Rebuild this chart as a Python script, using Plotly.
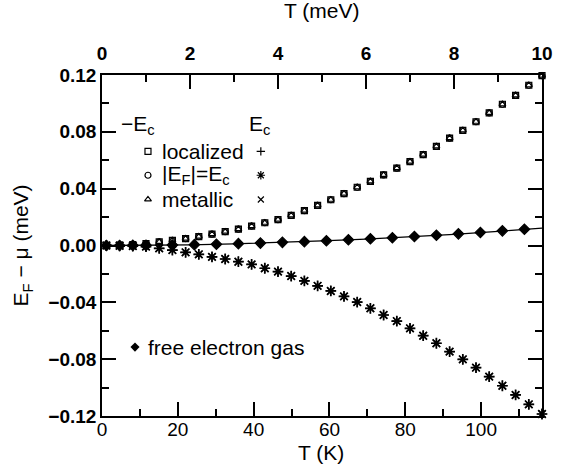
import plotly.graph_objects as go

# Temperature grid (meV) of the chemical-potential calculations
T_MEV = [0.1, 0.4, 0.7, 1.0, 1.3, 1.6, 1.9, 2.2, 2.5, 2.8, 3.1, 3.4, 3.7, 4.0,
         4.3, 4.6, 4.9, 5.2, 5.5, 5.8, 6.1, 6.4, 6.7, 7.0, 7.3, 7.6, 7.9, 8.2,
         8.5, 8.8, 9.1, 9.4, 9.7, 10.0]

# Band edge at -E_c (E_F - mu, meV)
neg_localized = [0.0000, 0.0002, 0.0006, 0.0013, 0.0025, 0.0036, 0.0049, 0.0063,
                 0.0080, 0.0097, 0.0115, 0.0137, 0.0160, 0.0182, 0.0212, 0.0245,
                 0.0282, 0.0322, 0.0365, 0.0410, 0.0452, 0.0497, 0.0544, 0.0591,
                 0.0640, 0.0697, 0.0756, 0.0810, 0.0871, 0.0933, 0.0994, 0.1057,
                 0.1128, 0.1195]
neg_fermi_eq = list(neg_localized)
neg_metallic = list(neg_localized)

# Band edge at +E_c (E_F - mu, meV)
pos_localized = [0.0000, -0.0002, -0.0004, -0.0008, -0.0020, -0.0032, -0.0048,
                 -0.0062, -0.0080, -0.0095, -0.0114, -0.0133, -0.0160, -0.0184,
                 -0.0215, -0.0249, -0.0284, -0.0320, -0.0358, -0.0398, -0.0442,
                 -0.0489, -0.0532, -0.0583, -0.0635, -0.0688, -0.0747, -0.0801,
                 -0.0860, -0.0923, -0.0987, -0.1052, -0.1118, -0.1186]
pos_fermi_eq = list(pos_localized)
pos_metallic = list(pos_localized)

# Free electron gas: computed points and the analytic curve
T_FEG = [0.1, 0.4, 0.7, 1.0, 1.6, 2.1, 2.6, 3.1, 3.6, 4.1, 4.6, 5.1, 5.6, 6.1,
         6.6, 7.1, 7.6, 8.1, 8.6, 9.1, 9.6]
feg_points = [0.0000, 0.0000, 0.0001, 0.0001, 0.0003, 0.0006, 0.0009, 0.0013,
              0.0017, 0.0022, 0.0027, 0.0033, 0.0040, 0.0047, 0.0055, 0.0063,
              0.0072, 0.0082, 0.0092, 0.0103, 0.0114]
T_CURVE = [0, 1, 2, 3, 4, 5, 6, 7, 8, 9, 10]
feg_curve = [0.0, 0.0001, 0.0005, 0.0012, 0.0021, 0.0032, 0.0045, 0.0061,
             0.0079, 0.0100, 0.0122]

K_PER_MEV = 11.605
T_MAX_MEV = 10.0

FONT = "Liberation Sans, Arial, sans-serif"
BLACK = "black"

fig = go.Figure()


def pts(x, y, symbol, size, lw=1.2):
    return go.Scatter(
        x=x, y=y, xaxis="x2", yaxis="y", mode="markers", cliponaxis=False,
        showlegend=False, hoverinfo="skip",
        marker=dict(symbol=symbol, size=size, color=BLACK,
                    line=dict(color=BLACK, width=lw)))


fig.add_trace(go.Scatter(x=T_CURVE, y=feg_curve, xaxis="x2", yaxis="y",
                         mode="lines", line=dict(color=BLACK, width=1.3),
                         showlegend=False, hoverinfo="skip"))
fig.add_trace(pts(T_MEV, neg_localized, "square-open", 6))
fig.add_trace(pts(T_MEV, neg_fermi_eq, "circle-open", 6))
fig.add_trace(pts(T_MEV, neg_metallic, "triangle-up-open", 6))
fig.add_trace(pts(T_MEV, pos_localized, "cross-thin-open", 7))
fig.add_trace(pts(T_MEV, pos_fermi_eq, "asterisk-open", 9, lw=1.7))
fig.add_trace(pts(T_MEV, pos_metallic, "x-thin-open", 7))
fig.add_trace(pts(T_FEG, feg_points, "diamond", 8))

# bottom Kelvin axis holds an empty trace so it is drawn
fig.add_trace(go.Scatter(x=[None], y=[None], xaxis="x", yaxis="y",
                         showlegend=False, hoverinfo="skip"))

# legend keys, placed in a hidden unit-square overlay
KEY_LEFT, KEY_RIGHT = 0.1045, 0.361
ROWS = [0.776, 0.706, 0.635]
left_syms = ["square-open", "circle-open", "triangle-up-open"]
right_syms = ["cross-thin-open", "asterisk-open", "x-thin-open"]
for row, ls, rs in zip(ROWS, left_syms, right_syms):
    for kx, sym in ((KEY_LEFT, ls), (KEY_RIGHT, rs)):
        fig.add_trace(go.Scatter(
            x=[kx], y=[row], xaxis="x3", yaxis="y3", mode="markers",
            showlegend=False, hoverinfo="skip", cliponaxis=False,
            marker=dict(symbol=sym, size=6 if sym != "asterisk-open" else 7,
                        color=BLACK, line=dict(color=BLACK, width=1.2))))
fig.add_trace(go.Scatter(
    x=[0.075], y=[0.202], xaxis="x3", yaxis="y3", mode="markers",
    showlegend=False, hoverinfo="skip", cliponaxis=False,
    marker=dict(symbol="diamond", size=7, color=BLACK)))

axis_common = dict(showline=True, linecolor=BLACK, linewidth=1.5,
                   ticks="inside", tickcolor=BLACK, tickwidth=1.5, ticklen=14,
                   showgrid=False, zeroline=False)

fig.update_layout(
    width=565, height=470,
    margin=dict(l=102, r=23, t=75, b=54),
    paper_bgcolor="white", plot_bgcolor="white",
    font=dict(family=FONT, color=BLACK),
    xaxis=dict(**axis_common, range=[0, T_MAX_MEV * K_PER_MEV], tick0=0,
               dtick=20, side="bottom", ticklabelstandoff=-5,
               tickfont=dict(family=FONT, size=19, color=BLACK),
               minor=dict(dtick=10, ticks="inside", ticklen=7,
                          tickcolor=BLACK, tickwidth=1.5)),
    xaxis2=dict(**axis_common, range=[0, T_MAX_MEV], tick0=0, dtick=2,
                side="top", overlaying="x", anchor="y", ticklabelstandoff=6,
                tickfont=dict(family=FONT, size=19, color=BLACK, weight="bold"),
                minor=dict(dtick=1, ticks="inside", ticklen=7,
                           tickcolor=BLACK, tickwidth=1.5)),
    yaxis=dict(**axis_common, range=[-0.12, 0.12], tick0=0, dtick=0.04,
               tickformat=".2f", mirror="ticks",
               tickfont=dict(family=FONT, size=19, color=BLACK, weight="bold"),
               minor=dict(dtick=0.02, ticks="inside", ticklen=7,
                          tickcolor=BLACK, tickwidth=1.5)),
    xaxis3=dict(range=[0, 1], visible=False, overlaying="x", anchor="y3"),
    yaxis3=dict(range=[0, 1], visible=False, overlaying="y", anchor="x3"),
)

TXT = dict(family=FONT, size=21, color=BLACK)
TITLE = dict(family=FONT, size=21, color=BLACK)
ann = [
    dict(text="T (meV)", x=0.498, y=1.19, xanchor="center", yanchor="middle",
         font=TITLE),
    dict(text="T (K)", x=0.498, y=-0.107, xanchor="center", yanchor="middle",
         font=TITLE),
    dict(text="E<sub>F</sub> \u2212 \u03bc (meV)", x=-0.182, y=0.5,
         xanchor="center", yanchor="middle", textangle=-90, font=TITLE),
    dict(text="\u2212E<sub>c</sub>", x=0.082, y=0.853, xanchor="center",
         yanchor="middle", font=TXT),
    dict(text="E<sub>c</sub>", x=0.359, y=0.853, xanchor="center",
         yanchor="middle", font=TXT),
    dict(text="localized", x=0.132, y=ROWS[0], xanchor="left",
         yanchor="middle", font=TXT),
    dict(text="|E<sub>F</sub>|=E<sub>c</sub>", x=0.132, y=ROWS[1],
         xanchor="left", yanchor="middle", font=TXT),
    dict(text="metallic", x=0.132, y=ROWS[2], xanchor="left",
         yanchor="middle", font=TXT),
    dict(text="free electron gas", x=0.101, y=0.202, xanchor="left",
         yanchor="middle", font=TXT),
]
for a in ann:
    fig.add_annotation(xref="paper", yref="paper", showarrow=False, **a)

fig.write_html("out.html")
